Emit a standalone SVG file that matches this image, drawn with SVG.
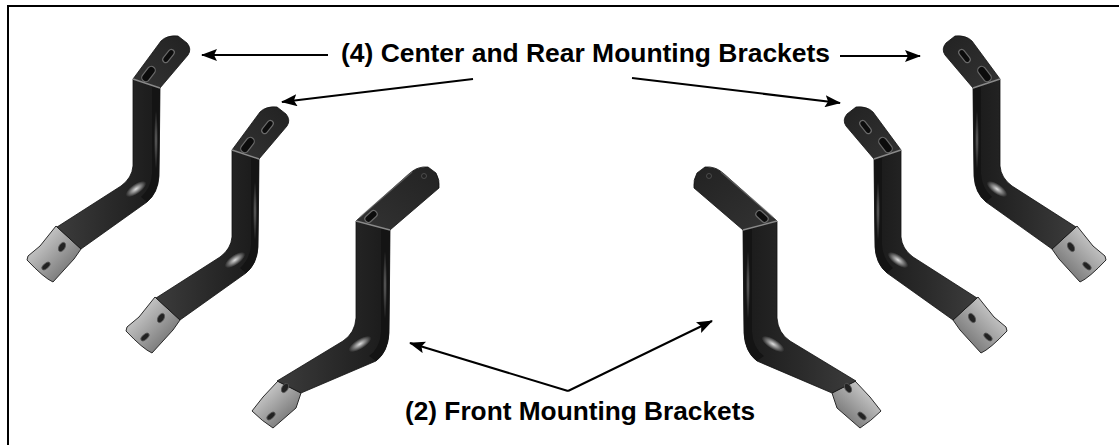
<svg xmlns="http://www.w3.org/2000/svg" xmlns:xlink="http://www.w3.org/1999/xlink" width="1119" height="445" viewBox="0 0 1119 445">
<style>
  .label { font-family: "Liberation Sans", Arial, sans-serif; font-weight: bold; font-size: 26px; fill: #000; }
  .conn { stroke: #000; stroke-width: 2; fill: none; marker-end: url(#ah); }
  .bar { fill: url(#face); stroke: #111; stroke-width: 0.8; }
  .side { fill: #141414; }
  .tab { fill: url(#tabg); stroke: #111; stroke-width: 0.8; }
  .edge { stroke: #8a8a8a; stroke-width: 1.4; fill: none; }
  .plate { fill: url(#plateg); stroke: #2a2a2a; stroke-width: 1; }
  .slot { fill: #0c0c0c; stroke: #6a6a6a; stroke-width: 1.2; }
  .hole { fill: #222; stroke: #555; stroke-width: 0.8; }
</style>
<defs>
  <marker id="ah" viewBox="0 0 16 12" refX="15" refY="6" markerWidth="16" markerHeight="12" markerUnits="userSpaceOnUse" orient="auto">
    <path d="M0,0 L16,6 L0,12 L3,6 Z" fill="#000"/>
  </marker>
  <linearGradient id="face" x1="0" y1="0" x2="1" y2="0">
    <stop offset="0" stop-color="#3c3c3c"/>
    <stop offset="0.5" stop-color="#2a2a2a"/>
    <stop offset="1" stop-color="#1a1a1a"/>
  </linearGradient>
  <linearGradient id="tabg" x1="0" y1="1" x2="1" y2="0">
    <stop offset="0" stop-color="#333"/>
    <stop offset="1" stop-color="#222"/>
  </linearGradient>
  <linearGradient id="plateg" x1="0" y1="0" x2="1" y2="1">
    <stop offset="0" stop-color="#e8e8e8"/>
    <stop offset="0.55" stop-color="#9a9a9a"/>
    <stop offset="1" stop-color="#5a5a5a"/>
  </linearGradient>
  <radialGradient id="hl">
    <stop offset="0" stop-color="#fff" stop-opacity="0.85"/>
    <stop offset="1" stop-color="#fff" stop-opacity="0"/>
  </radialGradient>
  <g id="rear">
    <path class="plate" d="M56,226 L81,249 L74,259 L53,282 Q44,278 27,260 L28,256 L40,246 Z"/>
    <path class="bar" d="M133,79 L160,88 L159,176 Q158,193 147,202 L81,249 L57,227 L121,186 Q132,178 133,166 Z"/>
    <path class="side" d="M152,86 L160,88 L159,176 Q158,193 147,202 L141,197 Q151,188 152,174 Z"/>
    <path class="tab" d="M133,79 L161,41 Q167,35 178,36 L187,43 Q192,49 188,55 L160,88 Z"/>
    <path class="edge" d="M133,79 L160,88"/>
    <rect class="slot" x="161" y="53" width="15" height="6" rx="3" transform="rotate(-52 168.5 56)"/>
    <rect class="slot" x="140" y="70" width="17" height="8" rx="4" transform="rotate(-52 148.5 74)"/>
    <ellipse cx="136" cy="189" rx="12" ry="5" transform="rotate(-35 136 189)" fill="url(#hl)"/>
    <ellipse cx="156" cy="140" rx="2" ry="30" fill="url(#hl)" opacity="0.4"/>
    <ellipse class="hole" cx="62" cy="247" rx="3" ry="5" transform="rotate(30 62 247)"/>
    <ellipse class="hole" cx="46" cy="266" rx="5" ry="2.5" transform="rotate(-40 46 266)"/>
  </g>
  <g id="front">
    <path class="plate" d="M263,397 L278,381 L301,393 L296,408 L273,428 Q262,421 252,411 Z"/>
    <path class="bar" d="M356,221 L390,230 L389,333 Q388,352 376,361 L301,393 L277,381 L343,341 Q355,333 356,318 Z"/>
    <path class="side" d="M381,228 L390,230 L389,333 Q388,352 376,361 L369,356 Q380,348 381,332 Z"/>
    <path class="tab" d="M356,221 L410,173 Q418,166 428,167 L436,173 Q440,180 439,188 L390,230 Z"/>
    <path class="edge" d="M356,221 L390,230"/>
    <path class="edge" d="M360,217 L412,172" stroke-opacity="0.5"/>
    <circle class="hole" cx="424" cy="176" r="2.5"/>
    <rect class="slot" x="364" y="213" width="14" height="7" rx="3.5" transform="rotate(-42 371 216.5)"/>
    <ellipse cx="360" cy="344" rx="13" ry="5" transform="rotate(-32 360 344)" fill="url(#hl)"/>
    <ellipse cx="385" cy="285" rx="2" ry="35" fill="url(#hl)" opacity="0.4"/>
    <ellipse class="hole" cx="285" cy="388" rx="3" ry="5" transform="rotate(30 285 388)"/>
    <ellipse class="hole" cx="271" cy="416" rx="5" ry="2.5" transform="rotate(-40 271 416)"/>
  </g>
</defs>

<path d="M8,445 V6 H1119" fill="none" stroke="#000" stroke-width="2"/>

<g id="bracket-left-rear"><use xlink:href="#rear" href="#rear"/></g>
<g id="bracket-left-center"><use xlink:href="#rear" href="#rear" transform="translate(99 71)"/></g>
<g id="bracket-left-front"><use xlink:href="#front" href="#front"/></g>
<g id="bracket-right-front"><use xlink:href="#front" href="#front" transform="matrix(-1 0 0 1 1133 0)"/></g>
<g id="bracket-right-center"><use xlink:href="#rear" href="#rear" transform="matrix(-1 0 0 1 1133 0) translate(99 71)"/></g>
<g id="bracket-right-rear"><use xlink:href="#rear" href="#rear" transform="matrix(-1 0 0 1 1133 0)"/></g>

<g id="label-rear"><text class="label" x="341" y="62" textLength="489" lengthAdjust="spacingAndGlyphs">(4) Center and Rear Mounting Brackets</text></g>
<g id="label-front"><text class="label" x="405" y="420" textLength="350" lengthAdjust="spacingAndGlyphs">(2) Front Mounting Brackets</text></g>

<g id="connectors">
  <line class="conn" x1="328" y1="55" x2="202" y2="55"/>
  <line class="conn" x1="473" y1="79" x2="282" y2="102"/>
  <line class="conn" x1="840" y1="56" x2="920" y2="56"/>
  <line class="conn" x1="632" y1="78" x2="840" y2="103"/>
  <line class="conn" x1="568" y1="391" x2="410" y2="343"/>
  <line class="conn" x1="568" y1="391" x2="712" y2="321"/>
</g>
</svg>
